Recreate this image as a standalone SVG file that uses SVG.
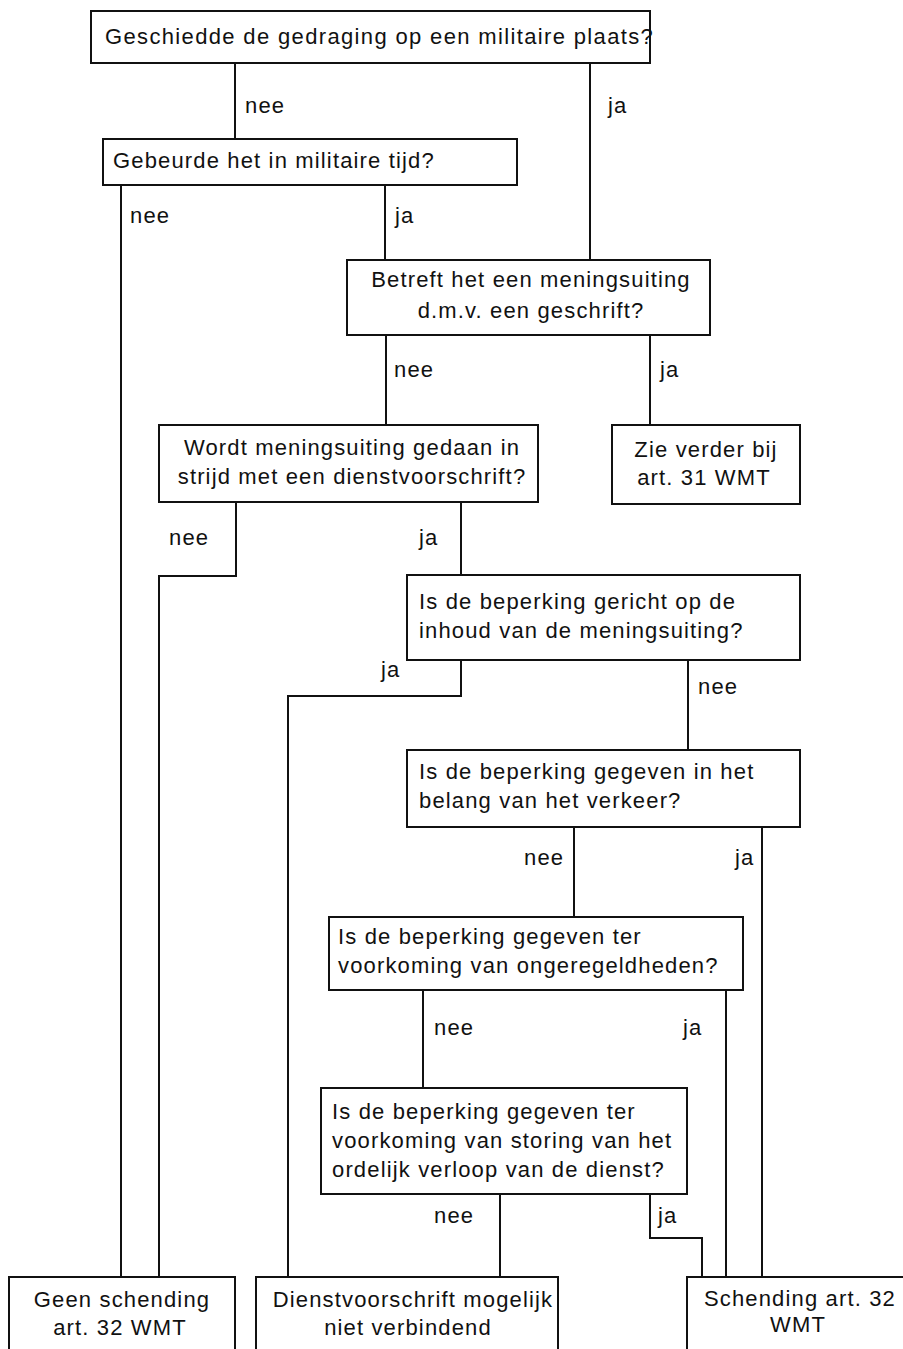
<svg xmlns="http://www.w3.org/2000/svg" width="903" height="1349" viewBox="0 0 903 1349">
<style>
.box{fill:#fff;stroke:#111;stroke-width:2}
.t{font-family:"Liberation Sans",Arial,sans-serif;font-size:22px;letter-spacing:1.15px;fill:#111}
.c{text-anchor:middle}
.lbl{font-family:"Liberation Sans",Arial,sans-serif;font-size:22px;letter-spacing:1.15px;fill:#111}
.ln{fill:none;stroke:#111;stroke-width:2}
</style>
<rect width="903" height="1349" fill="#fff"/>
<g id="connectors">
<polyline class="ln" points="235,63 235,139"/>
<polyline class="ln" points="590,63 590,260"/>
<polyline class="ln" points="121,185 121,1277"/>
<polyline class="ln" points="385,185 385,260"/>
<polyline class="ln" points="386,335 386,425"/>
<polyline class="ln" points="650,335 650,425"/>
<polyline class="ln" points="236,502 236,576 159,576 159,1277"/>
<polyline class="ln" points="461,502 461,575"/>
<polyline class="ln" points="461,660 461,696 288,696 288,1277"/>
<polyline class="ln" points="688,660 688,750"/>
<polyline class="ln" points="574,827 574,917"/>
<polyline class="ln" points="762,827 762,1277"/>
<polyline class="ln" points="423,990 423,1088"/>
<polyline class="ln" points="726,990 726,1277"/>
<polyline class="ln" points="500,1194 500,1277"/>
<polyline class="ln" points="650,1194 650,1238 702,1238 702,1277"/>
<text class="lbl" x="245" y="113">nee</text>
<text class="lbl" x="608" y="113">ja</text>
<text class="lbl" x="130" y="223">nee</text>
<text class="lbl" x="395" y="223">ja</text>
<text class="lbl" x="394" y="377">nee</text>
<text class="lbl" x="660" y="377">ja</text>
<text class="lbl" x="169" y="545">nee</text>
<text class="lbl" x="419" y="545">ja</text>
<text class="lbl" x="381" y="677">ja</text>
<text class="lbl" x="698" y="694">nee</text>
<text class="lbl" x="524" y="865">nee</text>
<text class="lbl" x="735" y="865">ja</text>
<text class="lbl" x="434" y="1035">nee</text>
<text class="lbl" x="683" y="1035">ja</text>
<text class="lbl" x="434" y="1223">nee</text>
<text class="lbl" x="658" y="1223">ja</text>
</g>
<g id="q1">
<rect class="box" x="91" y="11" width="559" height="52"/>
<text class="t" x="105" y="44" style="letter-spacing:1.35px">Geschiedde de gedraging op een militaire plaats?</text>
</g>
<g id="q2">
<rect class="box" x="103" y="139" width="414" height="46"/>
<text class="t" x="113" y="168">Gebeurde het in militaire tijd?</text>
</g>
<g id="q3">
<rect class="box" x="347" y="260" width="363" height="75"/>
<text class="t c" x="531" y="287">Betreft het een meningsuiting</text>
<text class="t c" x="531" y="318">d.m.v. een geschrift?</text>
</g>
<g id="q4">
<rect class="box" x="159" y="425" width="379" height="77"/>
<text class="t c" x="352" y="455">Wordt meningsuiting gedaan in</text>
<text class="t c" x="352" y="484">strijd met een dienstvoorschrift?</text>
</g>
<g id="r31">
<rect class="box" x="612" y="425" width="188" height="79"/>
<text class="t c" x="706" y="457">Zie verder bij</text>
<text class="t c" x="704" y="485">art. 31 WMT</text>
</g>
<g id="q5">
<rect class="box" x="407" y="575" width="393" height="85"/>
<text class="t" x="419" y="609">Is de beperking gericht op de</text>
<text class="t" x="419" y="638">inhoud van de meningsuiting?</text>
</g>
<g id="q6">
<rect class="box" x="407" y="750" width="393" height="77"/>
<text class="t" x="419" y="779">Is de beperking gegeven in het</text>
<text class="t" x="419" y="808">belang van het verkeer?</text>
</g>
<g id="q7">
<rect class="box" x="329" y="917" width="414" height="73"/>
<text class="t" x="338" y="944">Is de beperking gegeven ter</text>
<text class="t" x="338" y="973">voorkoming van ongeregeldheden?</text>
</g>
<g id="q8">
<rect class="box" x="321" y="1088" width="366" height="106"/>
<text class="t" x="332" y="1119">Is de beperking gegeven ter</text>
<text class="t" x="332" y="1148">voorkoming van storing van het</text>
<text class="t" x="332" y="1177">ordelijk verloop van de dienst?</text>
</g>
<g id="geen">
<rect class="box" x="9" y="1277" width="226" height="90"/>
<text class="t c" x="122" y="1307">Geen schending</text>
<text class="t c" x="120" y="1335">art. 32 WMT</text>
</g>
<g id="dienst">
<rect class="box" x="256" y="1277" width="302" height="90"/>
<text class="t c" x="413" y="1307">Dienstvoorschrift mogelijk</text>
<text class="t c" x="408" y="1335">niet verbindend</text>
</g>
<g id="schending">
<rect class="box" x="687" y="1277" width="230" height="90"/>
<text class="t c" x="800" y="1306">Schending art. 32</text>
<text class="t c" x="798" y="1332">WMT</text>
</g>
</svg>
